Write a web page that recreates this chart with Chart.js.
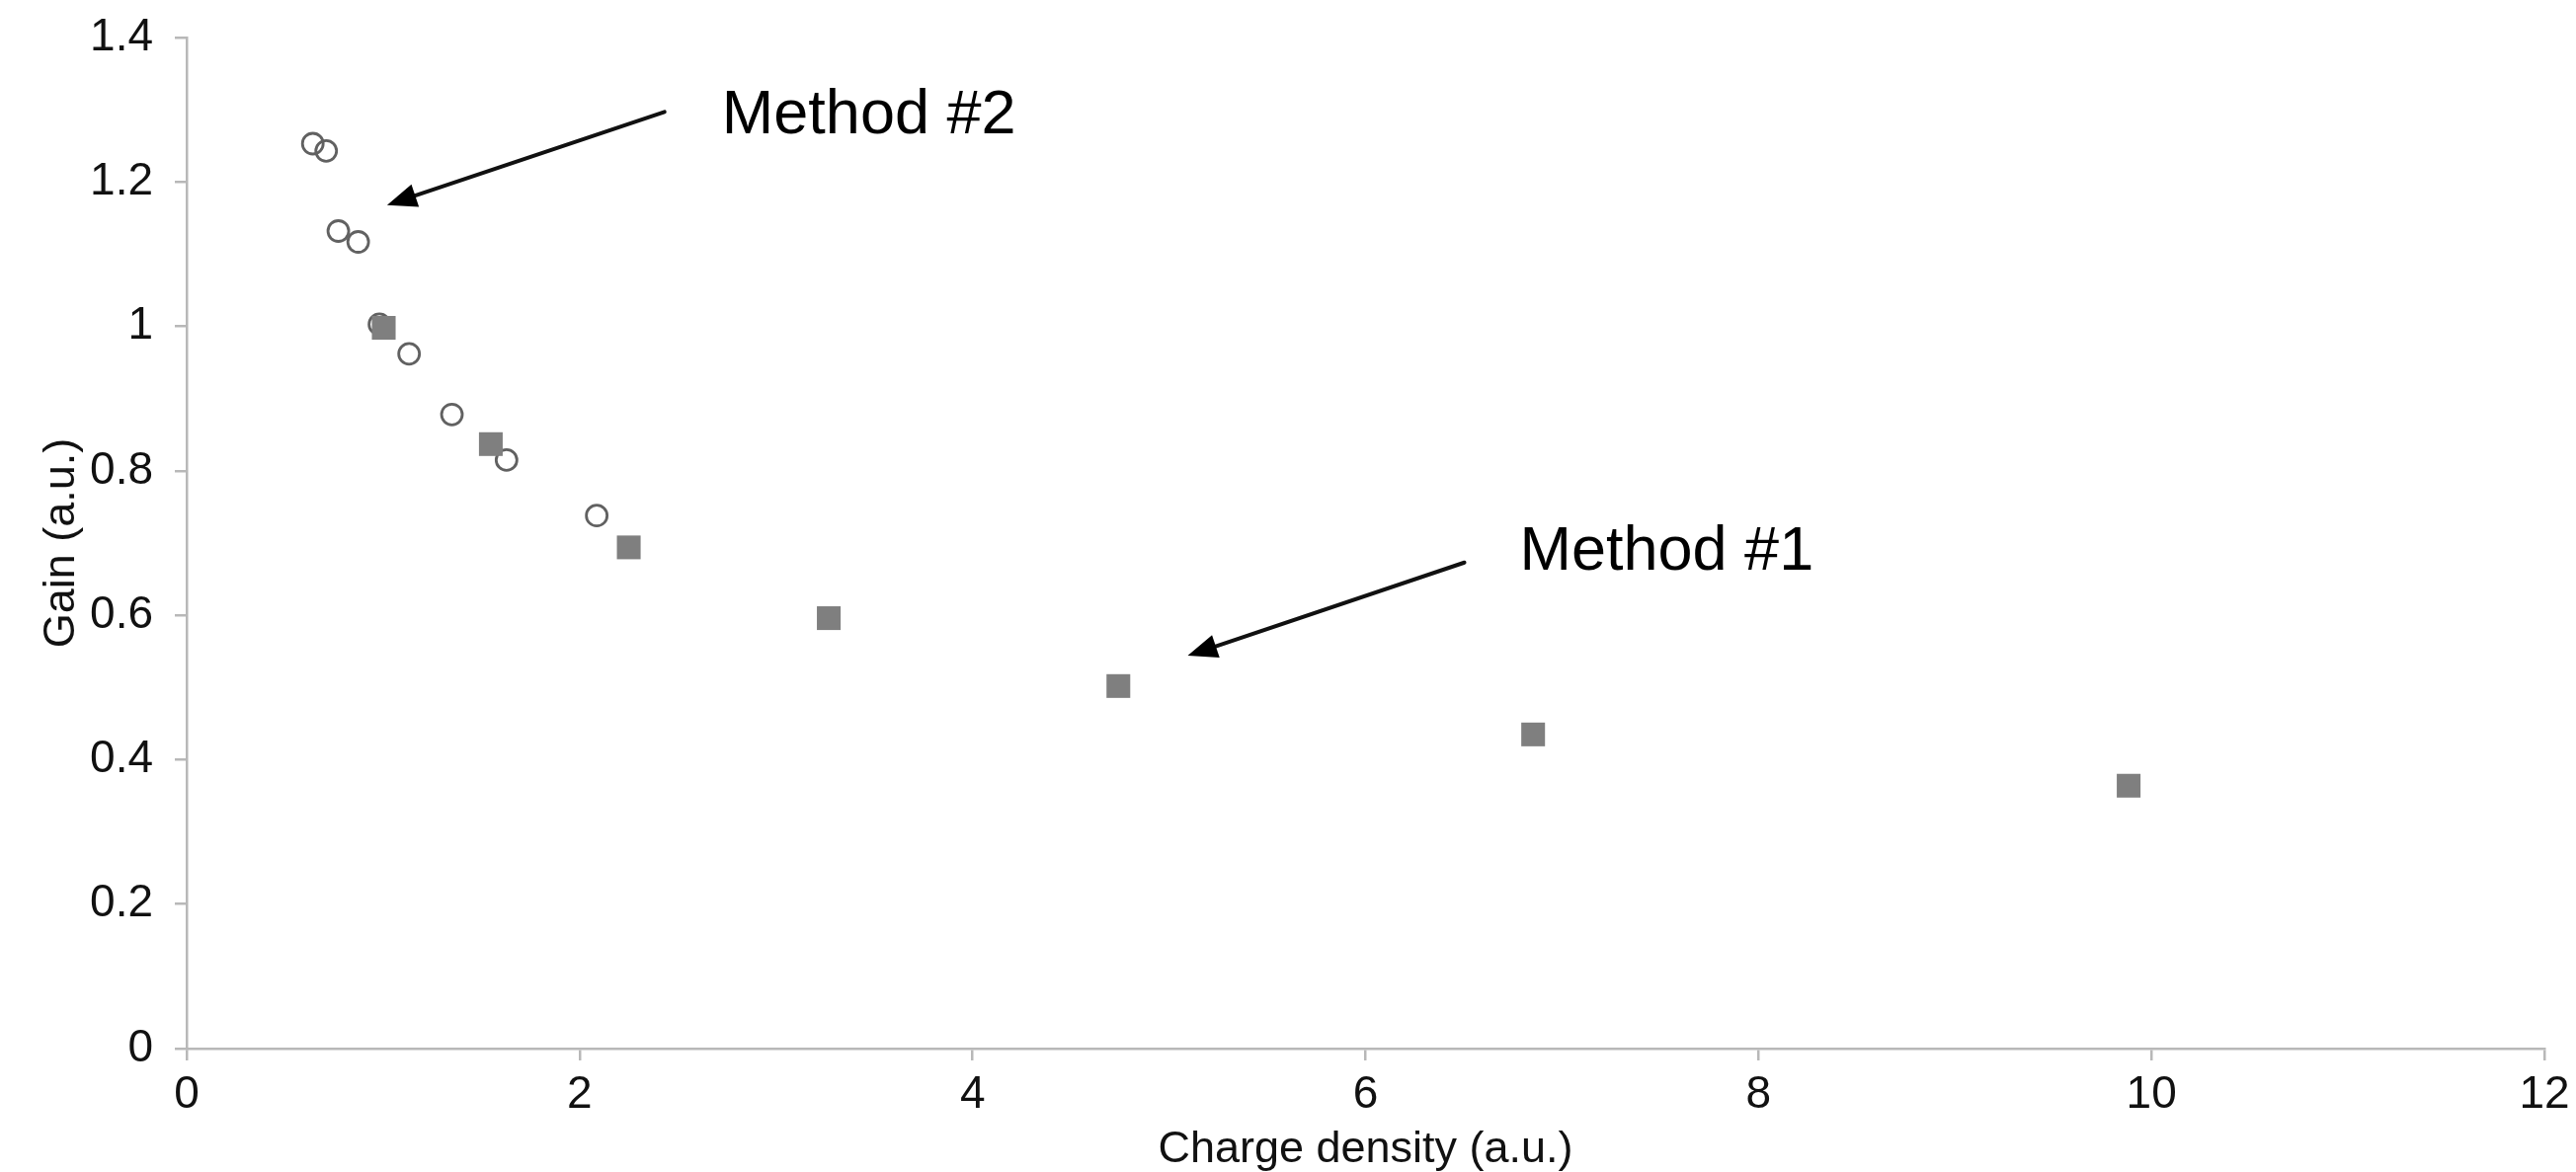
<!DOCTYPE html>
<html>
<head>
<meta charset="utf-8">
<script src="https://cdn.jsdelivr.net/npm/chart.js@4.4.1/dist/chart.umd.min.js"></script>
<style>
  html, body { margin: 0; padding: 0; background: #ffffff; }
  #wrap { width: 2608px; height: 1187px; }
</style>
</head>
<body>
<div id="wrap"><canvas id="c" width="2608" height="1187"></canvas></div>
<script>
// ---- Data ----
const method1X = [1.003, 1.548, 2.250, 3.268, 4.742, 6.853, 9.884];
const method1Y = [0.998, 0.837, 0.694, 0.596, 0.502, 0.435, 0.364];

const method2X = [0.642, 0.710, 0.772, 0.873, 0.981, 1.132, 1.350, 1.628, 2.087];
const method2Y = [1.253, 1.243, 1.132, 1.117, 1.003, 0.962, 0.878, 0.815, 0.738];

const xTickLabels = ['0', '2', '4', '6', '8', '10', '12'];
const yTickLabels = ['0', '0.2', '0.4', '0.6', '0.8', '1', '1.2', '1.4'];

const xTitle = 'Charge density (a.u.)';
const yTitle = 'Gain (a.u.)';

// annotation labels and arrows, in data units
const annotLabels = ['Method #1', 'Method #2'];
const annotTextX = [6.784, 2.724];
const annotTextY = [0.663, 1.268];
const arrowTailX = [6.503, 2.432];
const arrowTailY = [0.673, 1.297];
const arrowTipX = [5.095, 1.020];
const arrowTipY = [0.544, 1.168];

const FONT = "'Liberation Sans', Arial, Helvetica, sans-serif";

const pts = (xs, ys) => xs.map((x, i) => ({ x: x, y: ys[i] }));

const annotPlugin = {
  id: 'annot',
  afterDatasetsDraw(chart) {
    const ctx = chart.ctx;
    const xs = chart.scales.x, ys = chart.scales.y;
    ctx.save();
    for (let i = 0; i < annotLabels.length; i++) {
      const tx = xs.getPixelForValue(arrowTailX[i]);
      const ty = ys.getPixelForValue(arrowTailY[i]);
      const hx = xs.getPixelForValue(arrowTipX[i]);
      const hy = ys.getPixelForValue(arrowTipY[i]);
      const ang = Math.atan2(hy - ty, hx - tx);
      const headLen = 30, headW = 12;
      const bx = hx - headLen * Math.cos(ang);
      const by = hy - headLen * Math.sin(ang);
      ctx.strokeStyle = '#111';
      ctx.lineWidth = 4;
      ctx.lineCap = 'round';
      ctx.beginPath();
      ctx.moveTo(tx, ty);
      ctx.lineTo(bx + 4 * Math.cos(ang), by + 4 * Math.sin(ang));
      ctx.stroke();
      ctx.fillStyle = '#000';
      ctx.beginPath();
      ctx.moveTo(hx, hy);
      ctx.lineTo(bx + headW * Math.sin(ang), by - headW * Math.cos(ang));
      ctx.lineTo(bx - headW * Math.sin(ang), by + headW * Math.cos(ang));
      ctx.closePath();
      ctx.fill();

      ctx.fillStyle = '#000';
      ctx.font = '63px ' + FONT;
      ctx.textAlign = 'left';
      ctx.textBaseline = 'alphabetic';
      ctx.fillText(annotLabels[i], xs.getPixelForValue(annotTextX[i]), ys.getPixelForValue(annotTextY[i]));
    }
    ctx.restore();
  }
};

new Chart(document.getElementById('c'), {
  type: 'scatter',
  data: {
    datasets: [
      {
        label: 'Method #1',
        data: pts(method1X, method1Y),
        pointStyle: 'rect',
        pointRadius: 17,
        pointHoverRadius: 17,
        backgroundColor: '#7f7f7f',
        borderColor: '#7f7f7f',
        borderWidth: 0
      },
      {
        label: 'Method #2',
        data: pts(method2X, method2Y),
        pointStyle: 'circle',
        pointRadius: 10.5,
        pointHoverRadius: 10.5,
        backgroundColor: 'rgba(255,255,255,0)',
        borderColor: '#616161',
        borderWidth: 2.8
      }
    ]
  },
  options: {
    responsive: false,
    animation: false,
    devicePixelRatio: 1,
    layout: { autoPadding: false, padding: { top: 38, right: 32, left: 0, bottom: 0 } },
    plugins: {
      legend: { display: false },
      tooltip: { enabled: false }
    },
    scales: {
      x: {
        type: 'linear',
        min: 0, max: 12,
        afterFit(scale) { scale.height = 125; scale.paddingLeft = 0; scale.paddingRight = 0; },
        border: { display: true, color: '#b8b8b8', width: 2.5 },
        grid: { display: true, drawOnChartArea: false, drawTicks: true, tickLength: 12, color: '#b8b8b8', lineWidth: 2.5 },
        ticks: {
          stepSize: 2,
          padding: 8,
          color: '#111',
          font: { family: FONT, size: 46 },
          maxRotation: 0,
          callback: (v, i) => xTickLabels[i]
        },
        title: {
          display: true,
          text: xTitle,
          color: '#111',
          font: { family: FONT, size: 45, lineHeight: 1.0 },
          padding: { top: 0, bottom: 0 }
        }
      },
      y: {
        type: 'linear',
        min: 0, max: 1.4,
        afterFit(scale) { scale.width = 189; scale.paddingTop = 0; scale.paddingBottom = 0; },
        border: { display: true, color: '#b8b8b8', width: 2.5 },
        grid: { display: true, drawOnChartArea: false, drawTicks: true, tickLength: 12, color: '#b8b8b8', lineWidth: 2.5 },
        ticks: {
          stepSize: 0.2,
          padding: 22,
          color: '#111',
          font: { family: FONT, size: 46 },
          callback: (v, i) => yTickLabels[i]
        },
        title: {
          display: true,
          text: yTitle,
          color: '#111',
          font: { family: FONT, size: 45 },
          padding: { top: 36, bottom: 0 }
        }
      }
    }
  },
  plugins: [annotPlugin]
});
</script>
</body>
</html>
